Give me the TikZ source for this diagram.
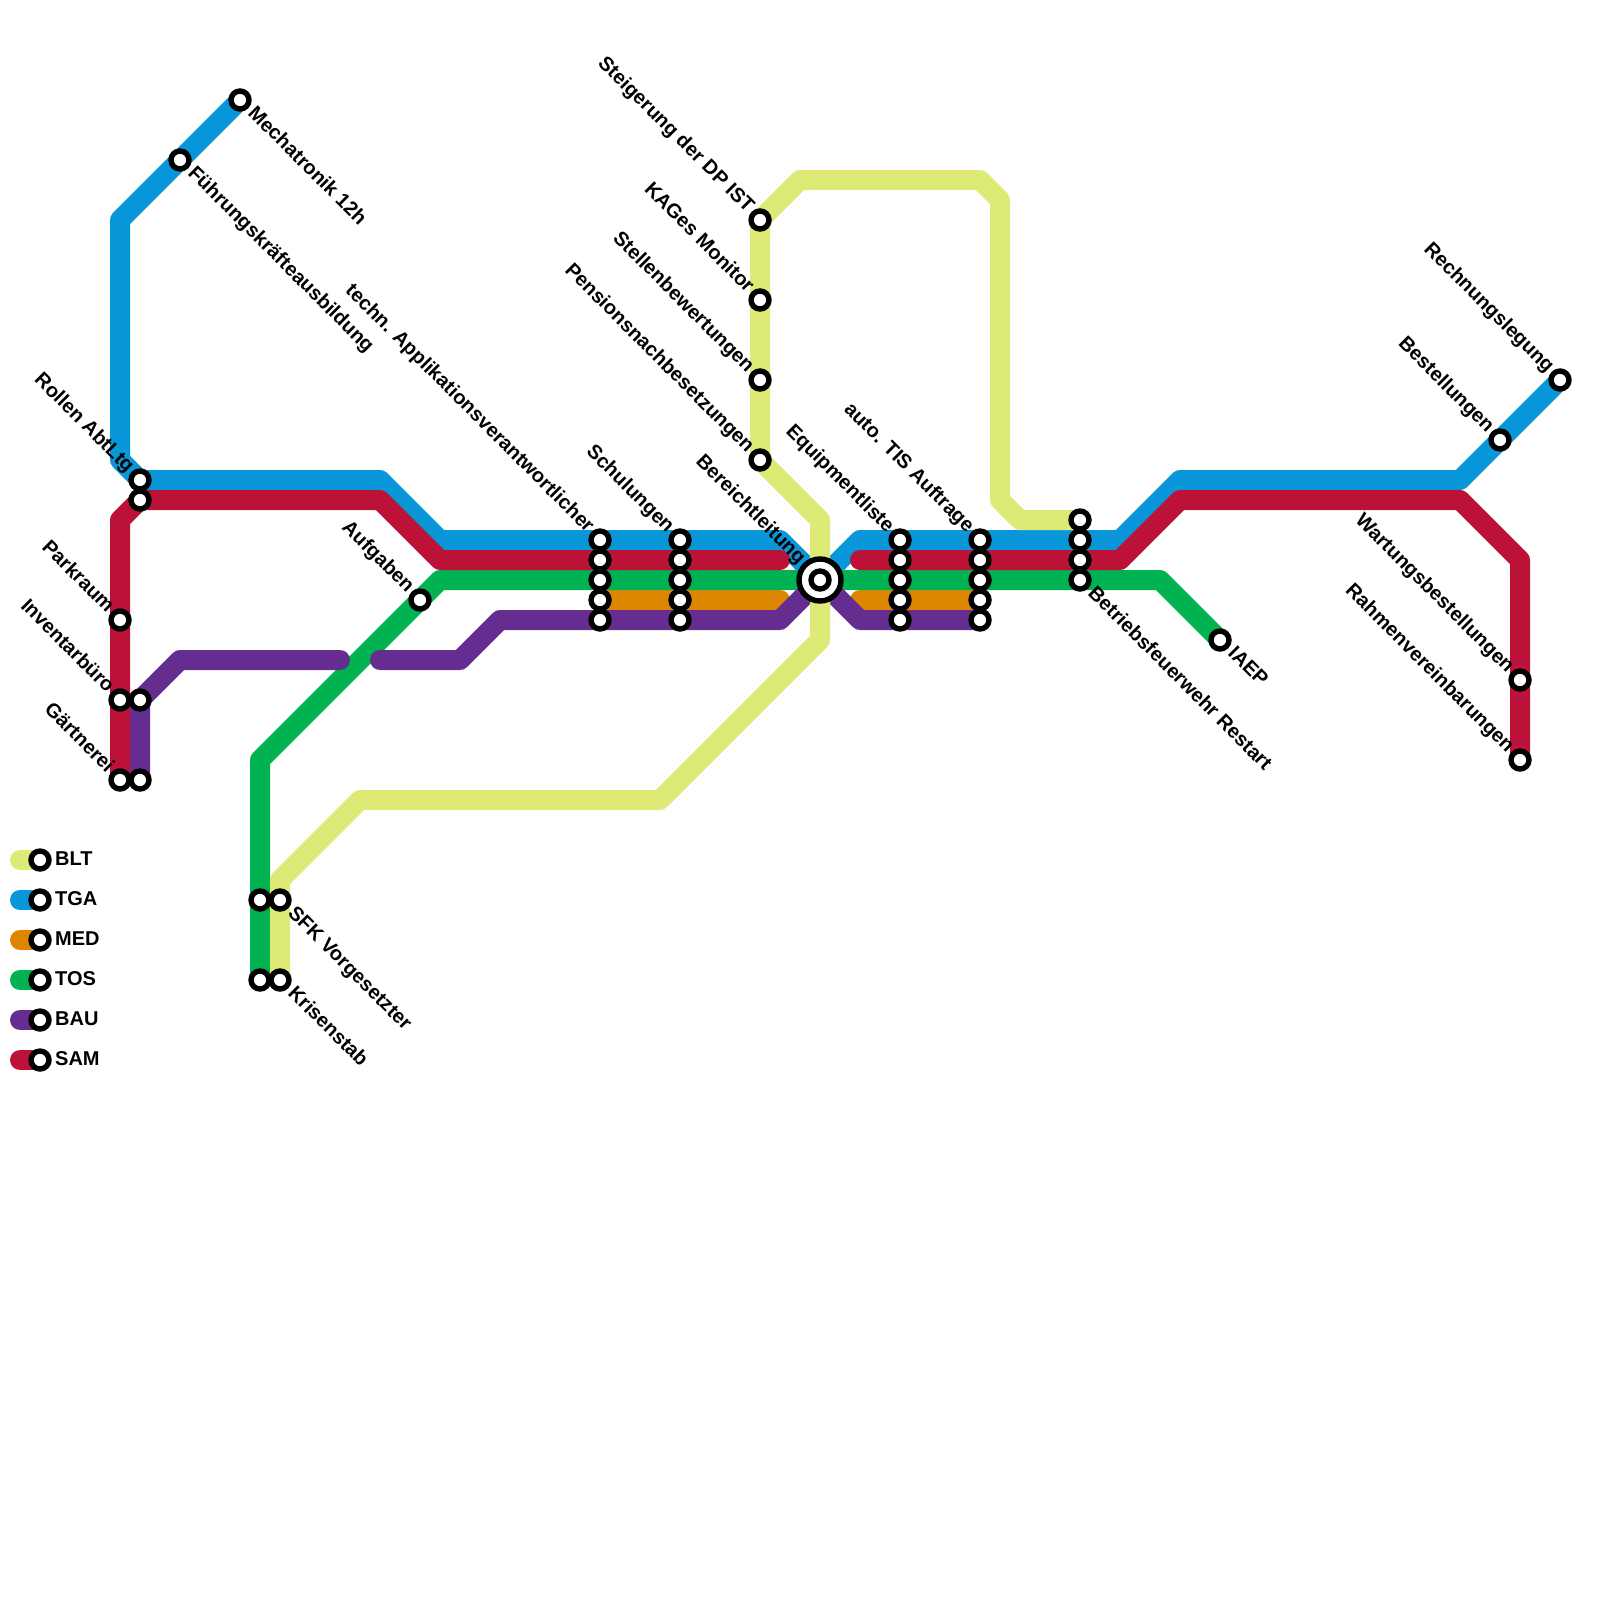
\documentclass[tikz,border=0pt]{standalone}
\usepackage{fontspec}
\setmainfont{Liberation Sans}
\usetikzlibrary{backgrounds}
\definecolor{bltcol}{HTML}{DDEA76}
\definecolor{tgacol}{HTML}{0A97D9}
\definecolor{medcol}{HTML}{DF8600}
\definecolor{toscol}{HTML}{00B251}
\definecolor{baucol}{HTML}{662D91}
\definecolor{samcol}{HTML}{BC1238}
\begin{document}
\begin{tikzpicture}
 [x=1pt, y=-1pt,
  stop node/.style={circle, draw=black, fill=white, line width=5.4pt, inner sep=0pt, minimum size=18pt},
  big node/.style={circle, draw=black, fill=white, line width=5.4pt, inner sep=0pt, minimum size=42pt},
  line path/.style={line width=20pt, line cap=round, line join=round},
  west label/.style={rotate=-45, anchor=east, inner xsep=14pt, inner ysep=0pt, text height=14pt, text depth=4pt, font=\bfseries\fontsize{20}{22}\selectfont},
  east label/.style={rotate=-45, anchor=west, inner xsep=15pt, inner ysep=0pt, text height=14pt, text depth=4pt, font=\bfseries\fontsize{20}{22}\selectfont},
  key label/.style={anchor=west, inner sep=0pt, text height=14pt, text depth=4pt, font=\bfseries\fontsize{20}{22}\selectfont}]

\useasboundingbox (0,0) rectangle (1600,1600);

\node[stop node] (mech) at (240,100) {};
\node[stop node] (fuehr) at (180,160) {};
\node[stop node] (rollenA) at (140,480) {};
\node[stop node] (rollenB) at (140,500) {};
\node[stop node] (park) at (120,620) {};
\node[stop node] (invA) at (120,700) {};
\node[stop node] (invB) at (140,700) {};
\node[stop node] (gartA) at (120,780) {};
\node[stop node] (gartB) at (140,780) {};
\node[stop node] (aufg) at (420,600) {};
\node[stop node] (sfkA) at (260,900) {};
\node[stop node] (sfkB) at (280,900) {};
\node[stop node] (krisA) at (260,980) {};
\node[stop node] (krisB) at (280,980) {};

\node[stop node] (techA) at (600,540) {};
\node[stop node] (techB) at (600,560) {};
\node[stop node] (techC) at (600,580) {};
\node[stop node] (techD) at (600,600) {};
\node[stop node] (techE) at (600,620) {};
\node[stop node] (schA) at (680,540) {};
\node[stop node] (schB) at (680,560) {};
\node[stop node] (schC) at (680,580) {};
\node[stop node] (schD) at (680,600) {};
\node[stop node] (schE) at (680,620) {};

\node[stop node] (steig) at (760,220) {};
\node[stop node] (kages) at (760,300) {};
\node[stop node] (stell) at (760,380) {};
\node[stop node] (pens) at (760,460) {};

\node[big node] (hubring) at (820,580) {};
\node[stop node] (hub) at (820,580) {};

\node[stop node] (equA) at (900,540) {};
\node[stop node] (equB) at (900,560) {};
\node[stop node] (equC) at (900,580) {};
\node[stop node] (equD) at (900,600) {};
\node[stop node] (equE) at (900,620) {};
\node[stop node] (tisA) at (980,540) {};
\node[stop node] (tisB) at (980,560) {};
\node[stop node] (tisC) at (980,580) {};
\node[stop node] (tisD) at (980,600) {};
\node[stop node] (tisE) at (980,620) {};
\node[stop node] (betrA) at (1080,520) {};
\node[stop node] (betrB) at (1080,540) {};
\node[stop node] (betrC) at (1080,560) {};
\node[stop node] (betrD) at (1080,580) {};

\node[stop node] (iaep) at (1220,640) {};
\node[stop node] (rech) at (1560,380) {};
\node[stop node] (best) at (1500,440) {};
\node[stop node] (wart) at (1520,680) {};
\node[stop node] (rahm) at (1520,760) {};

\node[stop node] (keyblt) at (40,860) {};
\node[stop node] (keytga) at (40,900) {};
\node[stop node] (keymed) at (40,940) {};
\node[stop node] (keytos) at (40,980) {};
\node[stop node] (keybau) at (40,1020) {};
\node[stop node] (keysam) at (40,1060) {};

\coordinate (startblt) at (20,860);
\coordinate (starttga) at (20,900);
\coordinate (startmed) at (20,940);
\coordinate (starttos) at (20,980);
\coordinate (startbau) at (20,1020);
\coordinate (startsam) at (20,1060);

\begin{pgfonlayer}{background}
\path[line path, draw=tgacol] (mech.center) -- (fuehr.center) -- (120,220) -- (120,460) -- (rollenA.center) -- (380,480) -- (440,540) -- (techA.center) -- (schA.center) -- (780,540) -- (hub.center) -- (860,540) -- (equA.center) -- (tisA.center) -- (betrB.center) -- (1120,540) -- (1180,480) -- (1460,480) -- (best.center) -- (rech.center);
\path[line path, draw=tgacol] (starttga) -- (keytga.center);

\path[line path, draw=medcol] (techD.center) -- (schD.center) -- (780,600);
\path[line path, draw=medcol] (860,600) -- (equD.center) -- (tisD.center);
\path[line path, draw=medcol] (startmed) -- (keymed.center);

\path[line path, draw=toscol] (krisA.center) -- (sfkA.center) -- (260,760) -- (aufg.center) -- (440,580) -- (techC.center) -- (schC.center) -- (hub.center) -- (equC.center) -- (tisC.center) -- (betrD.center) -- (1160,580) -- (iaep.center);
\path[line path, draw=toscol] (starttos) -- (keytos.center);

\path[line path, draw=baucol] (gartB.center) -- (invB.center) -- (180,660) -- (340,660);
\path[line path, draw=baucol] (380,660) -- (460,660) -- (500,620) -- (techE.center) -- (schE.center) -- (780,620) -- (hub.center) -- (860,620) -- (equE.center) -- (tisE.center);
\path[line path, draw=baucol] (startbau) -- (keybau.center);

\path[line path, draw=samcol] (gartA.center) -- (invA.center) -- (park.center) -- (120,520) -- (rollenB.center) -- (380,500) -- (440,560) -- (techB.center) -- (schB.center) -- (780,560);
\path[line path, draw=samcol] (860,560) -- (equB.center) -- (tisB.center) -- (betrC.center) -- (1120,560) -- (1180,500) -- (1460,500) -- (1520,560) -- (wart.center) -- (rahm.center);
\path[line path, draw=samcol] (startsam) -- (keysam.center);

\path[line path, draw=bltcol] (krisB.center) -- (sfkB.center) -- (280,880) -- (360,800) -- (660,800) -- (820,640) -- (hub.center) -- (820,520) -- (pens.center) -- (stell.center) -- (kages.center) -- (steig.center) -- (800,180) -- (980,180) -- (1000,200) -- (1000,500) -- (1020,520) -- (betrA.center);
\path[line path, draw=bltcol] (startblt) -- (keyblt.center);
\end{pgfonlayer}

\node[east label] (lmech) at (mech.center) {Mechatronik 12h};
\node[east label] (lfuehr) at (fuehr.center) {Führungskräfteausbildung};
\node[west label] (lrollen) at (rollenA.center) {Rollen AbtLtg};
\node[west label] (lpark) at (park.center) {Parkraum};
\node[west label] (linv) at (invA.center) {Inventarbüro};
\node[west label] (lgart) at (gartA.center) {Gärtnerei};
\node[west label] (laufg) at (aufg.center) {Aufgaben};
\node[east label] (lsfk) at (sfkB.center) {SFK Vorgesetzter};
\node[east label] (lkris) at (krisB.center) {Krisenstab};
\node[west label] (ltech) at (techA.center) {techn. Applikationsverantwortlicher};
\node[west label] (lsch) at (schA.center) {Schulungen};
\node[west label] (lsteig) at (steig.center) {Steigerung der DP IST};
\node[west label] (lkages) at (kages.center) {KAGes Monitor};
\node[west label] (lstell) at (stell.center) {Stellenbewertungen};
\node[west label] (lpens) at (pens.center) {Pensionsnachbesetzungen};
\node[west label, inner xsep=26pt] (lhub) at (hub.center) {Bereichtleitung};
\node[west label] (lequ) at (equA.center) {Equipmentliste};
\node[west label] (ltis) at (tisA.center) {auto. TIS Auftrage};
\node[east label] (lbetr) at (betrD.center) {Betriebsfeuerwehr Restart};
\node[east label] (liaep) at (iaep.center) {IAEP};
\node[west label] (lrech) at (rech.center) {Rechnungslegung};
\node[west label] (lbest) at (best.center) {Bestellungen};
\node[west label] (lwart) at (wart.center) {Wartungsbestellungen};
\node[west label] (lrahm) at (rahm.center) {Rahmenvereinbarungen};

\node[key label] (tblt) at (55,860) {BLT};
\node[key label] (ttga) at (55,900) {TGA};
\node[key label] (tmed) at (55,940) {MED};
\node[key label] (ttos) at (55,980) {TOS};
\node[key label] (tbau) at (55,1020) {BAU};
\node[key label] (tsam) at (55,1060) {SAM};

\end{tikzpicture}
\end{document}
